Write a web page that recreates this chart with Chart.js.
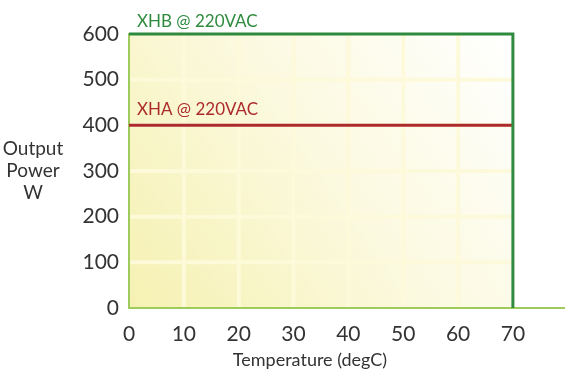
<!DOCTYPE html>
<html>
<head>
<meta charset="utf-8">
<script src="https://cdn.jsdelivr.net/npm/chart.js@4/dist/chart.umd.min.js"></script>
<style>
  html, body { margin: 0; padding: 0; background: #fff; }
  #wrap { width: 565px; height: 376px; }
</style>
</head>
<body>
<div id="wrap"><canvas id="power-chart"></canvas></div>
<script>
// curves
const xhbTemp = [0, 70, 70];
const xhbPower = [600, 600, 0];
const xhaTemp = [0, 70];
const xhaPower = [400, 400];
const xhbLabel = 'XHB @ 220VAC';
const xhaLabel = 'XHA @ 220VAC';
const tempTicks = [0, 10, 20, 30, 40, 50, 60, 70];
const powerTicks = [0, 100, 200, 300, 400, 500, 600];

const FONT = 'Lato, "Open Sans", sans-serif';
const green = '#2f8a3e';
const red = '#ad2a2c';
const axisGreen = '#9fcb5c';

function pts(xs, ys) {
    return xs.map((x, i) => ({ x: x, y: ys[i] }));
}

// yellow panel with soft grid, drawn under the axes
const panel = {
    id: 'panel',
    beforeDraw(chart) {
        const ctx = chart.ctx;
        const xs = chart.scales.x, ys = chart.scales.y;
        const x0 = xs.getPixelForValue(0), x1 = xs.getPixelForValue(70);
        const y0 = ys.getPixelForValue(0), y1 = ys.getPixelForValue(600);
        ctx.save();
        const g = ctx.createLinearGradient(x0, y0, x1, y1);
        g.addColorStop(0, '#f6f1b2');
        g.addColorStop(0.5, '#fbf9de');
        g.addColorStop(1, '#ffffff');
        ctx.fillStyle = g;
        ctx.fillRect(x0, y1, x1 - x0, y0 - y1);
        ctx.strokeStyle = 'rgba(253, 250, 218, 0.95)';
        ctx.lineWidth = 4;
        tempTicks.slice(1, -1).forEach(t => {
            const px = xs.getPixelForValue(t);
            ctx.beginPath(); ctx.moveTo(px, y1); ctx.lineTo(px, y0); ctx.stroke();
        });
        powerTicks.slice(1, -1).forEach(v => {
            const py = ys.getPixelForValue(v);
            ctx.beginPath(); ctx.moveTo(x0, py); ctx.lineTo(x1, py); ctx.stroke();
        });
        ctx.restore();
    },
    afterDraw(chart) {
        const ctx = chart.ctx;
        ctx.save();
        // series names above their lines
        ctx.font = '17px ' + FONT;
        ctx.textBaseline = 'alphabetic';
        ctx.textAlign = 'left';
        chart.data.datasets.forEach((ds, i) => {
            const p = chart.getDatasetMeta(i).data[0];
            ctx.fillStyle = ds.borderColor;
            ctx.fillText(ds.label, p.x + 8, p.y - (i === 0 ? 7 : 10));
        });
        ctx.fillStyle = '#333';
        ctx.textAlign = 'center';
        ctx.textBaseline = 'middle';
        // left axis title
        ctx.font = '19px ' + FONT;
        ['Output', 'Power', 'W'].forEach((s, i) => ctx.fillText(s, 33, 149 + i * 22));
        // bottom axis title
        ctx.font = '18px ' + FONT;
        ctx.fillText('Temperature (degC)', 310, 360);
        ctx.restore();
    }
};

const ctx = document.getElementById('power-chart').getContext('2d');
new Chart(ctx, {
    type: 'scatter',
    data: {
        datasets: [
            {
                label: xhbLabel,
                data: pts(xhbTemp, xhbPower),
                showLine: true,
                borderColor: green,
                borderWidth: 3,
                pointRadius: 0,
                clip: false
            },
            {
                label: xhaLabel,
                data: pts(xhaTemp, xhaPower),
                showLine: true,
                borderColor: red,
                borderWidth: 3,
                pointRadius: 0,
                clip: false
            }
        ]
    },
    options: {
        responsive: true,
        maintainAspectRatio: false,
        animation: false,
        layout: { padding: { top: 34, right: 0, left: 0, bottom: 0 } },
        plugins: {
            legend: { display: false },
            tooltip: { enabled: false }
        },
        scales: {
            x: {
                type: 'linear',
                min: 0,
                max: 79.5,
                afterBuildTicks: s => { s.ticks = tempTicks.map(v => ({ value: v })); },
                afterFit: s => { s.height = 68; },
                grid: { color: 'rgba(0,0,0,0)', drawTicks: false },
                border: { color: axisGreen, width: 2 },
                ticks: {
                    padding: 14,
                    color: '#333',
                    font: { family: FONT, size: 21 }
                }
            },
            y: {
                min: 0,
                max: 600,
                afterBuildTicks: s => { s.ticks = powerTicks.map(v => ({ value: v })); },
                afterFit: s => { s.width = 129; },
                grid: { color: 'rgba(0,0,0,0)', drawTicks: false },
                border: { color: axisGreen, width: 2 },
                ticks: {
                    padding: 10,
                    color: '#333',
                    font: { family: FONT, size: 21 }
                }
            }
        }
    },
    plugins: [panel]
});
</script>
</body>
</html>
